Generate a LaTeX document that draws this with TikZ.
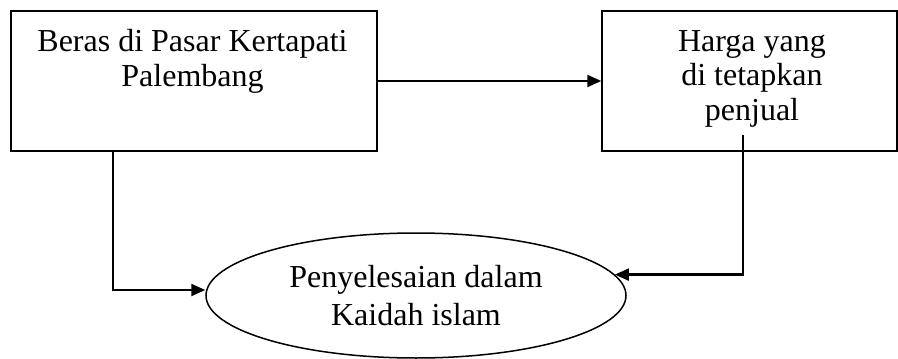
\documentclass[tikz,border=0pt]{standalone}
\usepackage{fontspec}
\setmainfont{Liberation Serif}
\usetikzlibrary{shapes.geometric,arrows.meta}
\begin{document}
\begin{tikzpicture}[x=1pt,y=-1pt,
  box/.style={draw,line width=1.5pt,inner sep=0pt},
  lbl/.style={anchor=base,align=center,inner sep=0pt},
  conn/.style={line width=2.2pt,-{Triangle[length=14pt,width=12pt]}}]
\useasboundingbox (0,0) rectangle (898,359);
\node[box,minimum width=366pt,minimum height=140pt] (L) at (194,81) {};
\node[box,minimum width=295pt,minimum height=140pt] (R) at (749.5,81) {};
\node[box,ellipse,minimum width=420pt,minimum height=125pt] (E) at (416,295.5) {};
\node[lbl,font=\fontsize{32}{35}\selectfont] (Lt) at (192.5,86.7) {Beras di Pasar Kertapati\\Palembang};
\node[lbl,font=\fontsize{32}{34.2}\selectfont] (Rt) at (752,120) {Harga yang\\di tetapkan\\penjual};
\node[lbl,font=\fontsize{32}{38}\selectfont] (Et) at (416,325) {Penyelesaian dalam\\Kaidah islam};
\coordinate (a1) at (112.7,151);
\coordinate (b1) at (743,135);
\draw[conn] (L.east) -- (L.east -| R.west);
\draw[conn] (a1) |- ([yshift=5.5pt]E.west);
\draw[conn] (b1) |- (E.6.6);
\end{tikzpicture}
\end{document}
